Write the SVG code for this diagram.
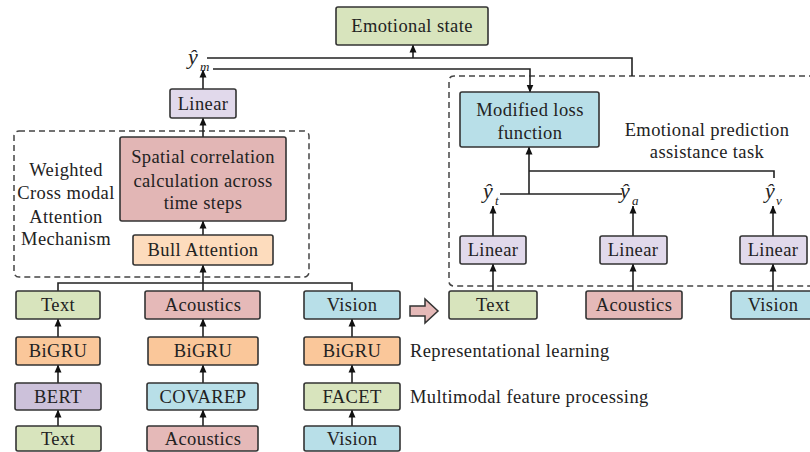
<svg xmlns="http://www.w3.org/2000/svg" width="810" height="452" viewBox="0 0 810 452">
<defs>
<marker id="ah" markerUnits="userSpaceOnUse" markerWidth="8" markerHeight="8" viewBox="0 0 8 8" refX="7.5" refY="4" orient="auto">
<path d="M0,0.5 L8,4 L0,7.5 Z" fill="#111"/>
</marker>
<style>
text{font-family:"Liberation Serif","Times New Roman",serif;fill:#222;font-size:18.5px;letter-spacing:0.4px}
.c{text-anchor:middle}
.b{stroke:#333;stroke-width:1.6}
.g{fill:#d8e4bd}
.r{fill:#e5b9b8}
.v{fill:#b8dfe8}
.o{fill:#fac79a}
.p{fill:#ccc1da}
.l{fill:#e1d9eb}
.pk{fill:#e2b6b5}
.pe{fill:#fddcbd}
.cn{fill:none;stroke:#222;stroke-width:1.6}
.ar{marker-end:url(#ah)}
.d{fill:none;stroke:#444;stroke-width:1.5;stroke-dasharray:6 4}
.yh{font-style:italic;font-size:22px;letter-spacing:0}
.sb{font-style:italic;font-size:13px;letter-spacing:0}
</style>
</defs>
<g id="group-left">
<rect class="d" x="14" y="131" width="295" height="146" rx="5"/>
</g>
<g id="group-right">
<path class="d" d="M815 76 H454 Q449 76 449 81 V281 Q449 286 454 286 H815"/>
</g>
<g id="connectors">
<path class="cn ar" d="M58 426 V410"/>
<path class="cn ar" d="M203 426 V410"/>
<path class="cn ar" d="M352 426 V410"/>
<path class="cn ar" d="M58 383 V365"/>
<path class="cn ar" d="M203 383 V365"/>
<path class="cn ar" d="M352 383 V365"/>
<path class="cn ar" d="M58 337 V319"/>
<path class="cn ar" d="M203 337 V319"/>
<path class="cn ar" d="M352 337 V319"/>
<path class="cn" d="M58 291 V283 H352 V291 M203 291 V283"/>
<path class="cn ar" d="M203 283 V265"/>
<path class="cn ar" d="M203 235 V221"/>
<path class="cn ar" d="M203 137 V118"/>
<path class="cn ar" d="M203 89 V70"/>
<path class="cn" d="M207 58 H632 V76"/>
<path class="cn ar" d="M413 58 V45"/>
<path class="cn ar" d="M213 69 H530 V92"/>
<path class="cn ar" d="M493 291 V264"/>
<path class="cn ar" d="M633 291 V264"/>
<path class="cn ar" d="M773 291 V264"/>
<path class="cn ar" d="M493 236 V206"/>
<path class="cn ar" d="M633 236 V206"/>
<path class="cn ar" d="M773 236 V206"/>
<path class="cn" d="M500 194 H622"/>
<path class="cn ar" d="M529 194 V147"/>
<path class="cn" d="M529 171 H774 V178"/>
<path d="M410 306 H425 V299 L438 311 L425 323 V316 H410 Z" fill="#e5b9b8" stroke="#333" stroke-width="1.5"/>
</g>
<g id="emotional-state"><rect class="b g" x="336" y="7" width="152" height="38" rx="2"/><text class="c" x="412" y="32">Emotional state</text></g>
<g id="y-m"><text class="yh" x="188" y="64">ŷ</text><text class="sb" x="200" y="71">m</text></g>
<g id="linear-main"><rect class="b l" x="170" y="89" width="66" height="29" rx="2"/><text class="c" x="203" y="110">Linear</text></g>
<g id="spatial"><rect class="b pk" x="120" y="137" width="166" height="84" rx="2"/><text class="c" x="203" y="163">Spatial correlation</text><text class="c" x="203" y="186.5">calculation across</text><text class="c" x="203" y="209">time steps</text></g>
<g id="bull"><rect class="b pe" x="133" y="235" width="140" height="30" rx="2"/><text class="c" x="203" y="256">Bull Attention</text></g>
<g id="wcam-label"><text class="c" x="66" y="176">Weighted</text><text class="c" x="66" y="199">Cross modal</text><text class="c" x="66" y="222.5">Attention</text><text class="c" x="66" y="245">Mechanism</text></g>
<g id="text1"><rect class="b g" x="16" y="291" width="84" height="28" rx="2"/><text class="c" x="58" y="311">Text</text></g>
<g id="acoustics1"><rect class="b r" x="145" y="291" width="115" height="28" rx="2"/><text class="c" x="203" y="311">Acoustics</text></g>
<g id="vision1"><rect class="b v" x="304" y="291" width="96" height="28" rx="2"/><text class="c" x="352" y="311">Vision</text></g>
<g id="bigru-t"><rect class="b o" x="16" y="337" width="84" height="28" rx="2"/><text class="c" x="58" y="357">BiGRU</text></g>
<g id="bigru-a"><rect class="b o" x="148" y="337" width="110" height="28" rx="2"/><text class="c" x="203" y="357">BiGRU</text></g>
<g id="bigru-v"><rect class="b o" x="304" y="337" width="96" height="28" rx="2"/><text class="c" x="352" y="357">BiGRU</text></g>
<g id="bert"><rect class="b p" x="15" y="383" width="86" height="27" rx="2"/><text class="c" x="58" y="402.5">BERT</text></g>
<g id="covarep"><rect class="b v" x="147" y="383" width="111" height="27" rx="2"/><text class="c" x="203" y="402.5">COVAREP</text></g>
<g id="facet"><rect class="b g" x="304" y="383" width="96" height="27" rx="2"/><text class="c" x="352" y="402.5">FACET</text></g>
<g id="text0"><rect class="b g" x="16" y="426" width="85" height="25" rx="2"/><text class="c" x="58" y="444.5">Text</text></g>
<g id="acoustics0"><rect class="b r" x="147" y="426" width="111" height="25" rx="2"/><text class="c" x="203" y="444.5">Acoustics</text></g>
<g id="vision0"><rect class="b v" x="304" y="426" width="96" height="25" rx="2"/><text class="c" x="352" y="444.5">Vision</text></g>
<g id="rep-label"><text x="410" y="357">Representational learning</text></g>
<g id="mfp-label"><text x="410" y="403">Multimodal feature processing</text></g>
<g id="modified-loss"><rect class="b v" x="460" y="92" width="139" height="55" rx="2"/><text class="c" x="530" y="116">Modified loss</text><text class="c" x="530" y="139">function</text></g>
<g id="epat-label"><text class="c" x="707" y="136">Emotional prediction</text><text class="c" x="707" y="158">assistance task</text></g>
<g id="y-t"><text class="yh" x="483" y="198">ŷ</text><text class="sb" x="495" y="205">t</text></g>
<g id="y-a"><text class="yh" x="620" y="198">ŷ</text><text class="sb" x="632" y="205">a</text></g>
<g id="y-v"><text class="yh" x="765" y="198">ŷ</text><text class="sb" x="776" y="205">v</text></g>
<g id="linear-t"><rect class="b l" x="460" y="236" width="66" height="28" rx="2"/><text class="c" x="493" y="256">Linear</text></g>
<g id="linear-a"><rect class="b l" x="600" y="236" width="67" height="28" rx="2"/><text class="c" x="633" y="256">Linear</text></g>
<g id="linear-v"><rect class="b l" x="740" y="236" width="67" height="28" rx="2"/><text class="c" x="773" y="256">Linear</text></g>
<g id="text2"><rect class="b g" x="449" y="291" width="88" height="28" rx="2"/><text class="c" x="493" y="311">Text</text></g>
<g id="acoustics2"><rect class="b r" x="586" y="291" width="96" height="28" rx="2"/><text class="c" x="634" y="311">Acoustics</text></g>
<g id="vision2"><rect class="b v" x="731" y="291" width="85" height="28" rx="2"/><text class="c" x="773" y="311">Vision</text></g>
</svg>
